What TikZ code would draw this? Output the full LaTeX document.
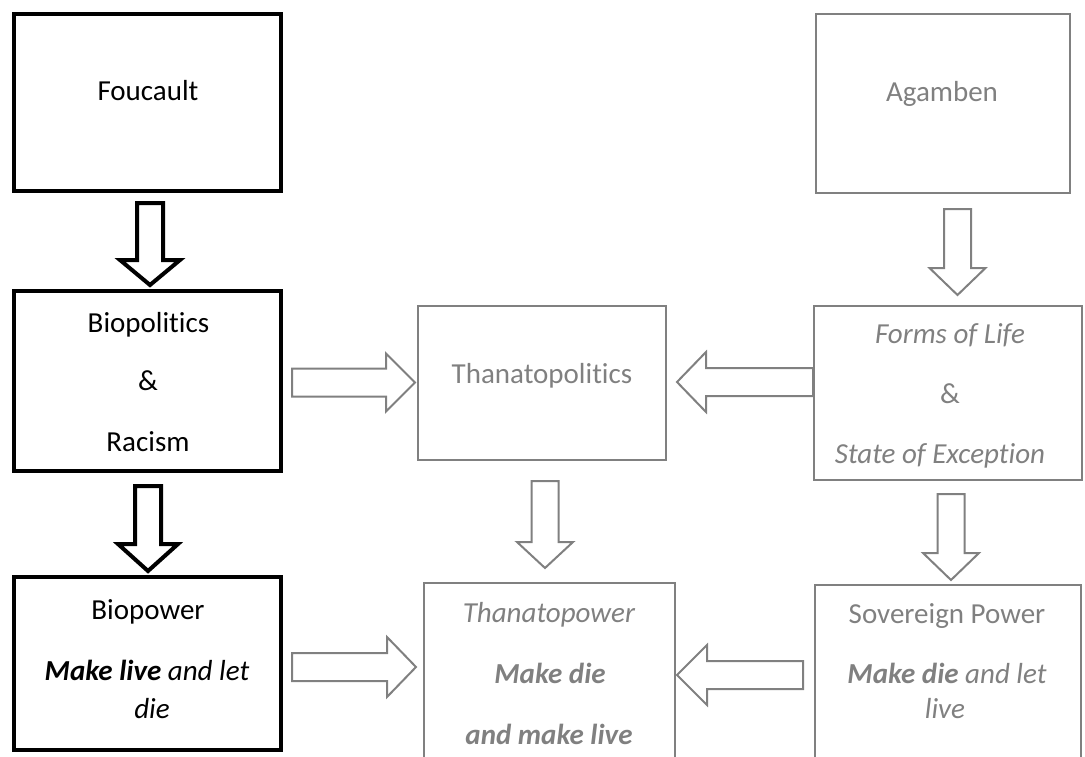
\documentclass[tikz,border=0pt]{standalone}
\usepackage{fontspec}
\setmainfont{Carlito}[Ligatures=NoCommon]
\usetikzlibrary{calc,fit}
\definecolor{softgray}{HTML}{808080}

% Outlined block arrow from #2 to #3: half shaft #4, half head #5, head length #6
\newcommand\blockarrow[6]{%
  \coordinate (hb) at ($(#3)!#6!(#2)$);
  \draw[#1] ($(#2)!#4!90:(#3)$) -- ($(hb)!#4!90:(#3)$) -- ($(hb)!#5!90:(#3)$)
    -- (#3) -- ($(hb)!#5!-90:(#3)$) -- ($(hb)!#4!-90:(#3)$)
    -- ($(#2)!#4!-90:(#3)$) -- cycle;
}

\tikzset{
  blackbox/.style={draw=black, line width=4pt, inner sep=0pt},
  graybox/.style={draw=softgray, line width=2pt, inner sep=0pt},
  blackarrow/.style={draw=black, line width=4pt},
  grayarrow/.style={draw=softgray, line width=2pt},
  txt/.style={anchor=base, inner sep=0pt, font=\fontsize{29}{35}\selectfont},
  darktxt/.style={txt, text=black},
  greytxt/.style={txt, text=softgray},
}

\begin{document}
\begin{tikzpicture}[x=1pt, y=-1pt]
\useasboundingbox (0,0) rectangle (1085,756);

% Boxes
\node[blackbox, fit={(14,14)(281,191)}] (fou) {};
\node[blackbox, fit={(14,291)(281,471)}] (bip) {};
\node[blackbox, fit={(14,577)(281,750)}] (bpw) {};
\node[graybox, fit={(418,306)(666,460)}] (tpl) {};
\node[graybox, fit={(424,583)(675,775)}] (tpw) {};
\node[graybox, fit={(816,14)(1070,193)}] (agb) {};
\node[graybox, fit={(814,306)(1082,480)}] (frm) {};
\node[graybox, fit={(815,585)(1081,775)}] (sov) {};

% Texts
\node[darktxt] (tfou) at (148,100) {Foucault};
\node[darktxt] (tbip1) at (148.5,332) {Biopolitics};
\node[darktxt] (tbip2) at (148,390) {\&};
\node[darktxt] (tbip3) at (148,451) {Racism};
\node[darktxt] (tbpw1) at (148,619) {Biopower};
\node[darktxt] (tbpw2) at (147,680) {\textbf{\textit{Make live}} \textit{and let}};
\node[darktxt] (tbpw3) at (152,718) {\textit{die}};

\node[greytxt] (ttpl) at (542,383) {Thanatopolitics};
\node[greytxt] (ttpw1) at (549,622) {\textit{Thanatopower}};
\node[greytxt] (ttpw2) at (550,683) {\textbf{\textit{Make die}}};
\node[greytxt] (ttpw3) at (549,744) {\textbf{\textit{and make live}}};

\node[greytxt] (tagb) at (942,101) {Agamben};
\node[greytxt] (tfrm1) at (950,343) {\textit{Forms of Life}};
\node[greytxt] (tfrm2) at (950,403) {\&};
\node[greytxt] (tfrm3) at (940,463) {\textit{State of Exception}};
\node[greytxt] (tsov1) at (947,623) {Sovereign Power};
\node[greytxt] (tsov2) at (947,683) {\textbf{\textit{Make die}} \textit{and let}};
\node[greytxt] (tsov3) at (945,718) {\textit{live}};

% Arrow end points
\coordinate (a1s) at ($(fou.south)+(2.5,10)$);
\coordinate (a1e) at ($(bip.north)+(2.5,-4)$);
\coordinate (a2s) at ($(bip.south)+(0.5,13)$);
\coordinate (a2e) at ($(bpw.north)+(0.5,-4)$);
\coordinate (a3s) at ($(agb.south)+(14.5,15)$);
\coordinate (a3e) at ($(frm.north)+(9.5,-10)$);
\coordinate (a4s) at ($(frm.south)+(3,13)$);
\coordinate (a4e) at ($(sov.north)+(3,-4)$);
\coordinate (a5s) at ($(tpl.south)+(3,20)$);
\coordinate (a5e) at ($(tpw.north)+(-4.5,-14)$);
\coordinate (a6s) at ($(bip.east)+(9,1.5)$);
\coordinate (a6e) at ($(tpl.west)+(-2,-0.5)$);
\coordinate (a7s) at ($(frm.west)+(0,-11)$);
\coordinate (a7e) at ($(tpl.east)+(10,-1)$);
\coordinate (a8s) at ($(bpw.east)+(9,3.5)$);
\coordinate (a8e) at ($(tpw.west)+(-7,-12)$);
\coordinate (a9s) at ($(sov.west)+(-11,-5)$);
\coordinate (a9e) at ($(tpw.east)+(1,-4)$);

% Block arrows
\blockarrow{blackarrow}{a1s}{a1e}{13pt}{30pt}{25pt}
\blockarrow{blackarrow}{a2s}{a2e}{13pt}{30pt}{27pt}
\blockarrow{grayarrow}{a3s}{a3e}{13.5pt}{28pt}{27pt}
\blockarrow{grayarrow}{a4s}{a4e}{13.5pt}{28pt}{27pt}
\blockarrow{grayarrow}{a5s}{a5e}{13.5pt}{28pt}{26pt}
\blockarrow{grayarrow}{a6s}{a6e}{14pt}{29pt}{29pt}
\blockarrow{grayarrow}{a7s}{a7e}{14pt}{30pt}{29pt}
\blockarrow{grayarrow}{a8s}{a8e}{14pt}{30pt}{29pt}
\blockarrow{grayarrow}{a9s}{a9e}{14pt}{30pt}{30pt}
\end{tikzpicture}
\end{document}
